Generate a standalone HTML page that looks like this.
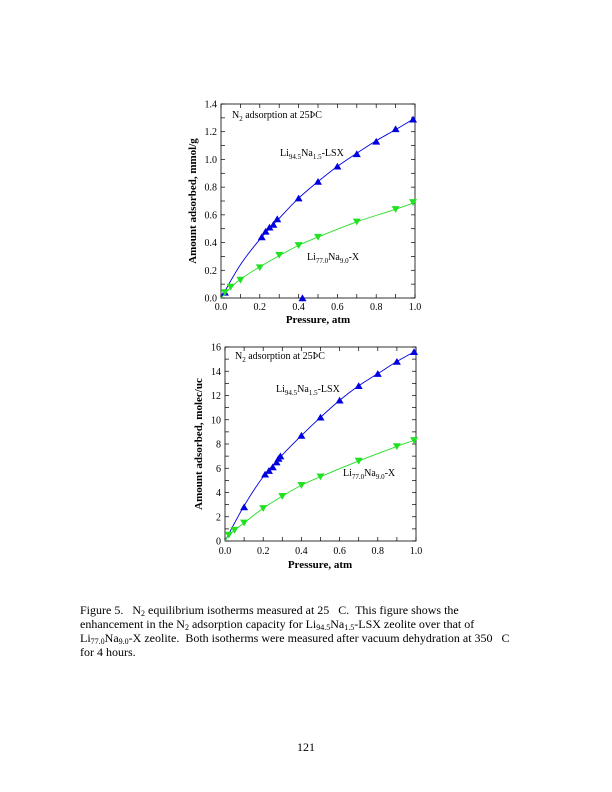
<!DOCTYPE html>
<html><head><meta charset="utf-8"><style>
html,body{margin:0;padding:0;background:#fff}
svg{display:block}
text{font-family:"Liberation Serif",serif;fill:#000;white-space:pre}
.t{font-size:10px}
.b{font-weight:bold;font-size:11px}
.c{font-size:12px}
</style></head><body>
<svg id="s" width="612" height="792" viewBox="0 0 612 792" xml:space="preserve">
<g id="g1">
<rect x="221" y="104" width="194" height="194" fill="none" stroke="#000" stroke-width="0.8"/>
<text class="t" x="221" y="310" text-anchor="middle">0.0</text>
<text class="t" x="259.8" y="310" text-anchor="middle">0.2</text>
<text class="t" x="298.6" y="310" text-anchor="middle">0.4</text>
<text class="t" x="337.4" y="310" text-anchor="middle">0.6</text>
<text class="t" x="376.2" y="310" text-anchor="middle">0.8</text>
<text class="t" x="415" y="310" text-anchor="middle">1.0</text>
<text class="t" x="217" y="301.5" text-anchor="end">0.0</text>
<text class="t" x="217" y="273.8" text-anchor="end">0.2</text>
<text class="t" x="217" y="246.1" text-anchor="end">0.4</text>
<text class="t" x="217" y="218.4" text-anchor="end">0.6</text>
<text class="t" x="217" y="190.6" text-anchor="end">0.8</text>
<text class="t" x="217" y="162.9" text-anchor="end">1.0</text>
<text class="t" x="217" y="135.2" text-anchor="end">1.2</text>
<text class="t" x="217" y="107.5" text-anchor="end">1.4</text>
<text class="b" x="318" y="323" text-anchor="middle">Pressure, atm</text>
<text class="b" transform="translate(196,201) rotate(-90)" text-anchor="middle">Amount adsorbed, mmol/g</text>
<text class="t" x="232" y="118">N<tspan font-size="7" dy="3">2</tspan><tspan dy="-3"> adsorption at 25ÞC</tspan></text>
<text class="t" x="280" y="156">Li<tspan font-size="7" dy="3">94.5</tspan><tspan dy="-3">Na</tspan><tspan font-size="7" dy="3">1.5</tspan><tspan dy="-3">-LSX</tspan></text>
<text class="t" x="307" y="260">Li<tspan font-size="7" dy="3">77.0</tspan><tspan dy="-3">Na</tspan><tspan font-size="7" dy="3">9.0</tspan><tspan dy="-3">-X</tspan></text>
</g>
<g id="g2">
<rect x="225" y="347" width="191" height="194" fill="none" stroke="#000" stroke-width="0.8"/>
<text class="t" x="225" y="554" text-anchor="middle">0.0</text>
<text class="t" x="263.2" y="554" text-anchor="middle">0.2</text>
<text class="t" x="301.4" y="554" text-anchor="middle">0.4</text>
<text class="t" x="339.6" y="554" text-anchor="middle">0.6</text>
<text class="t" x="377.8" y="554" text-anchor="middle">0.8</text>
<text class="t" x="416" y="554" text-anchor="middle">1.0</text>
<text class="t" x="221" y="544.5" text-anchor="end">0</text>
<text class="t" x="221" y="520.3" text-anchor="end">2</text>
<text class="t" x="221" y="496" text-anchor="end">4</text>
<text class="t" x="221" y="471.8" text-anchor="end">6</text>
<text class="t" x="221" y="447.5" text-anchor="end">8</text>
<text class="t" x="221" y="423.3" text-anchor="end">10</text>
<text class="t" x="221" y="399" text-anchor="end">12</text>
<text class="t" x="221" y="374.8" text-anchor="end">14</text>
<text class="t" x="221" y="350.5" text-anchor="end">16</text>
<text class="b" x="320" y="568" text-anchor="middle">Pressure, atm</text>
<text class="b" transform="translate(202,444) rotate(-90)" text-anchor="middle">Amount adsorbed, molec/uc</text>
<text class="t" x="235" y="359">N<tspan font-size="7" dy="3">2</tspan><tspan dy="-3"> adsorption at 25ÞC</tspan></text>
<text class="t" x="276" y="392">Li<tspan font-size="7" dy="3">94.5</tspan><tspan dy="-3">Na</tspan><tspan font-size="7" dy="3">1.5</tspan><tspan dy="-3">-LSX</tspan></text>
<text class="t" x="343" y="476">Li<tspan font-size="7" dy="3">77.0</tspan><tspan dy="-3">Na</tspan><tspan font-size="7" dy="3">9.0</tspan><tspan dy="-3">-X</tspan></text>
</g>
<text class="c" x="80" y="614">Figure 5.   N<tspan font-size="8" dy="2">2</tspan><tspan dy="-2"> equilibrium isotherms measured at 25   C.  This figure shows the</tspan></text>
<text class="c" x="80" y="628">enhancement in the N<tspan font-size="8" dy="2">2</tspan><tspan dy="-2"> adsorption capacity for Li</tspan><tspan font-size="8" dy="2">94.5</tspan><tspan dy="-2">Na</tspan><tspan font-size="8" dy="2">1.5</tspan><tspan dy="-2">-LSX zeolite over that of</tspan></text>
<text class="c" x="80" y="642">Li<tspan font-size="8" dy="2">77.0</tspan><tspan dy="-2">Na</tspan><tspan font-size="8" dy="2">9.0</tspan><tspan dy="-2">-X zeolite.  Both isotherms were measured after vacuum dehydration at 350   C</tspan></text>
<text class="c" x="80" y="656">for 4 hours.</text>
<text class="c" x="306" y="751" text-anchor="middle">121</text>
</svg>
<script>
var NS="http://www.w3.org/2000/svg",S=document.getElementById("s");
function el(n,a){var e=document.createElementNS(NS,n);for(var k in a)e.setAttribute(k,a[k]);S.appendChild(e);return e;}
function smooth(P){
 // monotone cubic path through points
 var n=P.length,d="M"+P[0][0]+","+P[0][1];
 var m=[];for(var i=0;i<n;i++){var a=i>0?P[i-1]:P[i],b=i<n-1?P[i+1]:P[i];m.push((b[1]-a[1])/((b[0]-a[0])||1));}
 for(var i=0;i<n-1;i++){var h=P[i+1][0]-P[i][0];
  d+=" C"+(P[i][0]+h/3)+","+(P[i][1]+m[i]*h/3)+" "+(P[i+1][0]-h/3)+","+(P[i+1][1]-m[i+1]*h/3)+" "+P[i+1][0]+","+P[i+1][1];}
 return d;}
function chart(x0,x1,y0,ytop,ymax,ticksX,ticksY,ser){
 var X=function(v){return x0+(x1-x0)*v},Y=function(v){return y0-(y0-ytop)*v/ymax};
 ticksX.forEach(function(v){el("line",{x1:X(v),x2:X(v),y1:y0,y2:y0-4,stroke:"#000","stroke-width":0.7});el("line",{x1:X(v),x2:X(v),y1:ytop,y2:ytop+4,stroke:"#000","stroke-width":0.7});});
 ticksY.forEach(function(v){el("line",{x1:x0,x2:x0+4,y1:Y(v),y2:Y(v),stroke:"#000","stroke-width":0.7});el("line",{x1:x1,x2:x1-4,y1:Y(v),y2:Y(v),stroke:"#000","stroke-width":0.7});});
 ser.forEach(function(s){
  var pts=[[0,0]].concat(s.fit).map(function(p){return [X(p[0]),Y(p[1])]});
  el("path",{d:smooth(pts),fill:"none",stroke:s.c,"stroke-width":0.9});
  s.d.forEach(function(p){var x=X(p[0]),y=Y(p[1]),h=4;
   var pt=s.up?[x-h,y+h*0.8,x+h,y+h*0.8,x,y-h*0.9]:[x-h,y-h*0.8,x+h,y-h*0.8,x,y+h*0.9];
   el("polygon",{points:pt.join(" "),fill:s.c});});
 });
}
var t5=[0,0.1,0.2,0.3,0.4,0.5,0.6,0.7,0.8,0.9,1];
var F1=[[0.1,0.24],[0.21,0.44],[0.3,0.575],[0.4,0.72],[0.5,0.84],[0.6,0.95],[0.7,1.045],[0.8,1.135],[0.9,1.215],[0.99,1.29]];
var L1=[[0.02,0.04],[0.21,0.44],[0.23,0.48],[0.25,0.51],[0.27,0.53],[0.29,0.57],[0.4,0.72],[0.5,0.84],[0.6,0.95],[0.7,1.04],[0.8,1.13],[0.9,1.22],[0.99,1.29]];
var X1=[[0.02,0.04],[0.05,0.08],[0.1,0.13],[0.2,0.22],[0.3,0.31],[0.4,0.38],[0.5,0.44],[0.7,0.55],[0.9,0.64],[0.99,0.69]];
var FX1=[[0.05,0.075],[0.1,0.135],[0.2,0.225],[0.3,0.305],[0.4,0.38],[0.5,0.44],[0.7,0.55],[0.9,0.64],[0.99,0.685]];
chart(221,415,298,104,1.4,t5,[0,0.1,0.2,0.3,0.4,0.5,0.6,0.7,0.8,0.9,1,1.1,1.2,1.3,1.4],[
 {c:"#0000e0",up:true,fit:F1,d:L1.concat([[0.42,0.0]])},
 {c:"#22e022",up:false,fit:FX1,d:X1}]);
var L2=[[0.1,2.8],[0.21,5.5],[0.23,5.8],[0.25,6.1],[0.27,6.5],[0.28,6.8],[0.29,7.0],[0.4,8.7],[0.5,10.2],[0.6,11.6],[0.7,12.8],[0.8,13.8],[0.9,14.8],[0.99,15.6]];
var F2=[[0.1,2.9],[0.2,5.3],[0.3,7.1],[0.4,8.7],[0.5,10.2],[0.6,11.6],[0.7,12.8],[0.8,13.8],[0.9,14.8],[0.99,15.6]];
var X2=[[0.02,0.5],[0.05,0.9],[0.1,1.5],[0.2,2.7],[0.3,3.7],[0.4,4.6],[0.5,5.3],[0.7,6.6],[0.9,7.8],[0.99,8.3]];
chart(225,416,541,347,16,t5,[0,1,2,3,4,5,6,7,8,9,10,11,12,13,14,15,16],[
 {c:"#0000e0",up:true,fit:F2,d:L2},
 {c:"#22e022",up:false,fit:X2,d:X2}]);
</script>
</body></html>
